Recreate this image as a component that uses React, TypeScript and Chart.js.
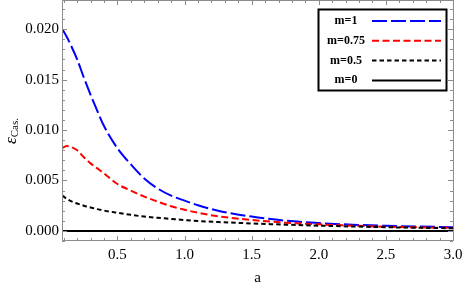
import React, { useEffect, useRef } from 'react';
import { Chart, registerables } from 'chart.js';

Chart.register(...registerables);

const aValues = [0.09, 0.12, 0.15, 0.2, 0.25, 0.3, 0.35, 0.4, 0.5, 0.6, 0.7, 0.8, 0.9, 1.0, 1.1, 1.25, 1.5, 1.75, 2.0, 2.25, 2.5, 2.75, 3.0];
const m1Values = [0.0200, 0.0193, 0.0185, 0.0170, 0.0152, 0.0135, 0.0119, 0.0104, 0.0082, 0.0066, 0.0052, 0.0042, 0.0035, 0.0030, 0.00255, 0.0020, 0.00142, 0.00102, 0.00078, 0.00062, 0.00051, 0.00043, 0.00037];
const m075Values = [0.0082, 0.00843, 0.00835, 0.0080, 0.0073, 0.0067, 0.0062, 0.0057, 0.00465, 0.0040, 0.0034, 0.0029, 0.00245, 0.0021, 0.0018, 0.00145, 0.00108, 0.00082, 0.00065, 0.00052, 0.00042, 0.00035, 0.00030];
const m05Values = [0.0035, 0.0032, 0.00297, 0.00272, 0.0025, 0.00232, 0.00216, 0.00202, 0.0018, 0.0016, 0.00142, 0.0013, 0.00119, 0.00108, 0.00098, 0.00088, 0.00074, 0.00062, 0.00052, 0.00044, 0.00037, 0.00031, 0.00026];
const m0Values = aValues.map(() => 0);

const seriesLabels = ['m=1', 'm=0.75', 'm=0.5', 'm=0'];
const seriesColors = ['#0000ff', '#ff0000', '#000000', '#000000'];
const seriesDashes = [[15, 4], [7, 3.5], [4.5, 3], []];

const xMin = 0.087;
const xMax = 3.0;
const yMin = -0.001;
const yMax = 0.0229;
const xMinorStep = 0.1;
const xMajorStep = 0.5;
const yMinorStep = 0.001;
const yMajorStep = 0.005;

const SERIF = '"Liberation Serif", "Times New Roman", serif';

function isMajor(v: number, step: number) {
  const r = v / step;
  return Math.abs(r - Math.round(r)) < 1e-6;
}

const framePlugin = {
  id: 'frameTicks',
  afterDatasetsDraw(chart: any) {
    const { ctx, chartArea } = chart;
    const { left, right, top, bottom } = chartArea;
    ctx.save();
    ctx.strokeStyle = '#8c8c8c';
    ctx.lineWidth = 1;
    ctx.beginPath();
    ctx.rect(Math.round(left) + 0.5, Math.round(top) + 0.5, Math.round(right - left), Math.round(bottom - top) - 1);
    ctx.stroke();
    const xs = chart.scales.x;
    const ys = chart.scales.y;
    ctx.beginPath();
    xs.ticks.forEach((t: any) => {
      const px = Math.round(xs.getPixelForValue(t.value)) + 0.5;
      const len = isMajor(t.value, xMajorStep) ? 5 : 3;
      ctx.moveTo(px, bottom);
      ctx.lineTo(px, bottom - len);
      ctx.moveTo(px, top);
      ctx.lineTo(px, top + len);
    });
    ys.ticks.forEach((t: any) => {
      const py = Math.round(ys.getPixelForValue(t.value)) + 0.5;
      const len = isMajor(t.value, yMajorStep) ? 5 : 3;
      ctx.moveTo(left, py);
      ctx.lineTo(left + len, py);
      ctx.moveTo(right, py);
      ctx.lineTo(right - len, py);
    });
    ctx.stroke();
    ctx.restore();
  },
  afterDraw(chart: any) {
    const { ctx, chartArea } = chart;
    ctx.save();
    // x-axis title
    ctx.fillStyle = '#000';
    ctx.font = `15px ${SERIF}`;
    ctx.textAlign = 'center';
    ctx.textBaseline = 'middle';
    ctx.fillText('a', (chartArea.left + chartArea.right) / 2, 278);
    // y-axis title
    ctx.translate(12, 131);
    ctx.rotate(-Math.PI / 2);
    ctx.textAlign = 'left';
    ctx.textBaseline = 'alphabetic';
    ctx.font = `italic 17px ${SERIF}`;
    const eps = '\u03b5';
    const w1 = ctx.measureText(eps).width;
    ctx.font = `11px ${SERIF}`;
    const w2 = ctx.measureText('Cas.').width;
    const startX = -(w1 + w2) / 2;
    ctx.font = `italic 17px ${SERIF}`;
    ctx.fillText(eps, startX, 4);
    ctx.font = `11px ${SERIF}`;
    ctx.fillText('Cas.', startX + w1, 6);
    ctx.restore();

    // legend
    ctx.save();
    const bx = 318.5, by = 9.5, bw = 128, bh = 81;
    ctx.fillStyle = '#fff';
    ctx.fillRect(bx, by, bw, bh);
    ctx.strokeStyle = '#000';
    ctx.lineWidth = 2;
    ctx.strokeRect(bx, by, bw, bh);
    ctx.font = `bold 12px ${SERIF}`;
    ctx.textAlign = 'center';
    ctx.textBaseline = 'middle';
    chart.data.datasets.forEach((ds: any, i: number) => {
      const y = 21 + i * 19.8;
      ctx.fillStyle = '#000';
      ctx.fillText(ds.label, 346, y);
      ctx.strokeStyle = ds.borderColor;
      ctx.lineWidth = 2;
      ctx.setLineDash(ds.borderDash || []);
      ctx.beginPath();
      ctx.moveTo(372, y);
      ctx.lineTo(441, y);
      ctx.stroke();
    });
    ctx.setLineDash([]);
    ctx.restore();
  },
};

export default function App() {
  const canvasRef = useRef<HTMLCanvasElement | null>(null);

  useEffect(() => {
    document.body.style.margin = '0';
    const canvas = canvasRef.current;
    if (!canvas) return;
    const allSeries = [m1Values, m075Values, m05Values, m0Values];
    const datasets = allSeries.map((vals, i) => ({
      label: seriesLabels[i],
      data: aValues.map((a, j) => ({ x: a, y: vals[j] })),
      borderColor: seriesColors[i],
      backgroundColor: seriesColors[i],
      borderDash: seriesDashes[i],
      borderWidth: 2,
      pointRadius: 0,
      fill: false,
      cubicInterpolationMode: 'monotone' as const,
      order: 3 - i,
    }));
    const chart = new Chart(canvas, {
      type: 'line',
      data: { datasets },
      options: {
        animation: false,
        responsive: false,
        devicePixelRatio: 1,
        layout: { padding: { left: 0, right: 10, top: 0, bottom: 0 } },
        plugins: {
          legend: { display: false },
          tooltip: { enabled: false },
        },
        scales: {
          x: {
            type: 'linear',
            min: xMin,
            max: xMax,
            grid: { display: false, drawTicks: false },
            border: { display: false },
            ticks: {
              stepSize: xMinorStep,
              includeBounds: false,
              autoSkip: false,
              maxRotation: 0,
              padding: 5,
              color: '#000',
              font: { family: SERIF, size: 15 },
              callback: (v: any) => (isMajor(Number(v), xMajorStep) ? Number(v).toFixed(1) : ''),
            },
            afterFit: (s: any) => {
              s.height = 46;
              s.paddingLeft = 0;
              s.paddingRight = 0;
            },
          },
          y: {
            type: 'linear',
            min: yMin,
            max: yMax,
            grid: { display: false, drawTicks: false },
            border: { display: false },
            ticks: {
              stepSize: yMinorStep,
              includeBounds: false,
              autoSkip: false,
              padding: 3,
              color: '#000',
              font: { family: SERIF, size: 15 },
              callback: (v: any) => (isMajor(Number(v), yMajorStep) ? Math.abs(Number(v)).toFixed(3) : ''),
            },
            afterFit: (s: any) => {
              s.width = 62;
              s.paddingTop = 0;
              s.paddingBottom = 0;
            },
          },
        },
      },
      plugins: [framePlugin],
    });
    return () => chart.destroy();
  }, []);

  return (
    <div style={{ width: 463, height: 287, background: '#fff' }}>
      <canvas ref={canvasRef} width={463} height={287} />
    </div>
  );
}
